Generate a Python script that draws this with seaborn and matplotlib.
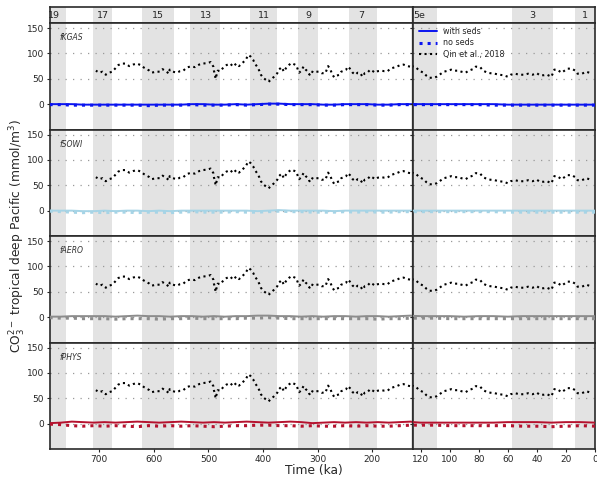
import matplotlib
matplotlib.use("Agg")
import matplotlib.pyplot as plt
import seaborn as sns

# Qin et al., 2018 record (ka, CO3 mmol/m3)
qin_age = [706, 700, 694, 688, 682, 676, 671, 665, 659, 652,
           645, 638, 631, 624, 618, 613, 608, 604, 596, 589,
           584, 578, 572, 571, 565, 558, 552, 546, 540, 534,
           530, 525, 517, 510, 502, 496, 491, 490, 488, 487,
           483, 478, 473, 467, 460, 455, 449, 444, 438, 432,
           427, 423, 418, 415, 411, 407, 404, 400, 395, 390,
           385, 380, 374, 371, 366, 362, 357, 353, 348, 342,
           339, 336, 334, 330, 326, 322, 318, 315, 312, 307,
           303, 298, 293, 286, 281, 277, 274, 270, 266, 260,
           257, 252, 248, 245, 240, 236, 231, 227, 222, 218,
           214, 209, 204, 199, 195, 190, 184, 178, 172, 167,
           161, 155, 149, 143, 136, 131, 126, 123, 121, 118,
           116, 114, 111, 109, 106, 104, 101, 99, 97, 94,
           92, 89, 87, 84, 82, 79, 77, 74, 72, 69,
           66, 63, 60, 58, 55, 52, 49, 46, 43, 40,
           38, 35, 33, 30, 29, 28, 26, 23, 21, 19,
           16, 13, 12, 9, 6, 4]
qin_co3 = [66, 62, 64, 58, 62, 64, 70, 77, 80, 80,
           75, 78, 80, 77, 72, 69, 66, 62, 64, 64,
           69, 65, 60, 68, 64, 62, 65, 66, 72, 74,
           74, 73, 78, 80, 81, 83, 74, 66, 58, 50,
           66, 65, 72, 77, 80, 74, 80, 75, 81, 87,
           97, 94, 87, 80, 74, 66, 58, 52, 48, 44,
           49, 54, 61, 68, 73, 64, 73, 77, 81, 78,
           76, 67, 62, 66, 74, 68, 64, 58, 65, 62,
           64, 64, 61, 61, 75, 69, 60, 53, 56, 58,
           64, 66, 68, 74, 69, 62, 58, 62, 61, 54,
           61, 62, 68, 65, 62, 65, 66, 65, 65, 70,
           72, 74, 77, 78, 75, 74, 75, 72, 66, 62,
           56, 52, 52, 54, 60, 64, 66, 68, 66, 66,
           64, 62, 66, 69, 74, 73, 66, 62, 61, 60,
           58, 57, 54, 58, 60, 58, 58, 60, 58, 61,
           57, 57, 58, 54, 61, 68, 68, 62, 66, 70,
           70, 65, 60, 60, 64, 62]

# model runs
model_age = [790, 770, 750, 730, 710, 690, 670, 650, 630, 610,
             590, 570, 550, 530, 510, 490, 470, 450, 430, 410,
             390, 370, 350, 330, 310, 290, 270, 250, 230, 210,
             190, 170, 150, 130, 120, 110, 100, 90, 80, 70,
             60, 50, 40, 30, 20, 10, 0]
kgas_seds = [0, 0, 0, -1, -1, -1, -1, -1, -1, -1, -1, -1, -1, 0, 0, -1, -1, 0, -1, 0,
             1, 1, 0, 0, 0, -1, -1, 0, 0, 0, -1, -1, 0, 0, 0, 0, 0, 0, 0, 0,
             -1, -1, -1, -1, -1, -1, -1]
kgas_noseds = [-1, -1, -2, -2, -2, -2, -2, -2, -2, -3, -2, -2, -2, -1, -2, -2, -2, -1, -2, -1,
               0, 0, -1, -1, -1, -2, -2, -1, -1, -1, -2, -2, -1, -1, -1, -1, -1, -1, -1, -2,
               -2, -2, -2, -2, -2, -2, -2]
sowi_seds = [0, 0, 0, -1, -1, 0, -1, 0, 0, -1, 0, -1, 0, 0, 0, 0, 0, 0, 0, -1,
             0, 1, 0, 0, 0, 0, -1, 0, 0, 0, 0, 0, 0, 0, 0, 0, 0, 0, 0, 0,
             0, 0, 0, 0, 0, 0, 0]
sowi_noseds = [-1, -2, -3, -4, -3, -4, -3, -3, -4, -3, -3, -4, -3, -2, -3, -3, -3, -2, -3, -3,
               -2, -1, -2, -2, -3, -3, -3, -2, -3, -2, -3, -3, -2, -2, -2, -2, -2, -2, -2, -2,
               -3, -3, -3, -3, -3, -3, -3]
aero_seds = [1, 1, 2, 2, 2, 2, 1, 2, 3, 2, 2, 1, 2, 2, 1, 2, 1, 2, 2, 3,
             3, 2, 2, 1, 2, 1, 2, 2, 1, 2, 2, 1, 2, 3, 2, 2, 2, 1, 2, 2,
             1, 2, 2, 2, 2, 2, 2]
aero_noseds = [-1, -2, -2, -3, -3, -3, -4, -3, -3, -3, -4, -3, -3, -2, -3, -3, -3, -3, -2, -2,
               -1, -2, -3, -3, -3, -3, -3, -3, -3, -3, -4, -3, -3, -2, -2, -2, -3, -3, -3, -3,
               -3, -3, -3, -3, -3, -3, -3]
phys_seds = [1, 2, 4, 3, 2, 3, 2, 3, 4, 3, 2, 3, 4, 3, 2, 3, 2, 3, 4, 3,
             2, 3, 4, 3, 1, 2, 3, 2, 3, 2, 3, 2, 3, 4, 2, 2, 2, 2, 2, 2,
             3, 3, 3, 2, 3, 3, 2]
phys_noseds = [-1, -2, -4, -5, -4, -5, -4, -5, -6, -4, -5, -4, -5, -4, -5, -6, -5, -4, -4, -3,
               -3, -4, -4, -5, -4, -5, -5, -4, -5, -4, -5, -5, -4, -3, -3, -3, -4, -4, -4, -4,
               -4, -5, -5, -6, -5, -4, -5]

experiments = ["fKGAS", "fSOWI", "fAERO", "fPHYS"]
exp_colors = ["#0a14f0", "#a6d4e6", "#8c8c8c", "#b5122e"]
with_seds = [kgas_seds, sowi_seds, aero_seds, phys_seds]
no_seds = [kgas_noseds, sowi_noseds, aero_noseds, phys_noseds]

# marine isotope stages (odd = shaded)
mis_labels = ["19", "17", "15", "13", "11", "9", "7", "5e", "3", "1"]
mis_start = [790, 712, 621, 533, 424, 337, 243, 130, 57, 14]
mis_end = [761, 676, 563, 478, 374, 300, 191, 109, 29, 0]
mis_label_pos = [782, 694, 592, 505, 399, 318, 220, 121, 43, 7]

sns.set_style("ticks")
plt.rcParams["font.family"] = ["DejaVu Sans"]

fig = plt.figure(figsize=(5.97, 4.84), dpi=100)
gs = fig.add_gridspec(5, 2, height_ratios=[16, 106.5, 106.5, 106.5, 106.5],
                      width_ratios=[2, 1], left=50 / 597, right=595 / 597,
                      top=1 - 7 / 484, bottom=1 - 449 / 484, hspace=0, wspace=0)

xlims = [(790, 125), (125, 0)]
xticks = [[700, 600, 500, 400, 300, 200], [120, 100, 80, 60, 40, 20, 0]]
spine_col = "#2a2a2a"


def style_spines(ax):
    for s in ax.spines.values():
        s.set_color(spine_col)
        s.set_linewidth(1.2)


def shade(ax):
    for a, b in zip(mis_start, mis_end):
        ax.axvspan(a, b, color="#e3e3e3", lw=0, zorder=0)


# top strip with MIS numbers
for col in range(2):
    ax = fig.add_subplot(gs[0, col])
    shade(ax)
    ax.set_xlim(*xlims[col])
    ax.set_ylim(0, 1)
    ax.set_xticks([])
    ax.set_yticks([])
    lo, hi = min(xlims[col]), max(xlims[col])
    for lab, pos in zip(mis_labels, mis_label_pos):
        if lo <= pos <= hi:
            ax.text(pos, 0.45, lab, ha="center", va="center", fontsize=6.8)
    style_spines(ax)

for row, name in enumerate(experiments):
    for col in range(2):
        ax = fig.add_subplot(gs[row + 1, col])
        shade(ax)
        ax.grid(axis="y", color="#999999", linestyle=(0, (1, 5)), linewidth=0.9, zorder=1)
        ax.set_axisbelow(True)
        sns.lineplot(x=qin_age, y=qin_co3, ax=ax, color="black", linestyle=":",
                     linewidth=1.5, legend=False, label="Qin et al., 2018", zorder=3)
        sns.lineplot(x=model_age, y=with_seds[row], ax=ax, color=exp_colors[row],
                     linewidth=1.4, legend=False, label="with seds", zorder=4)
        sns.lineplot(x=model_age, y=no_seds[row], ax=ax, color=exp_colors[row],
                     linestyle=":", linewidth=2.2, legend=False, label="no seds", zorder=4)
        ax.set_xlim(*xlims[col])
        ax.set_ylim(-50, 160)
        ax.set_yticks([0, 50, 100, 150])
        ax.set_xticks(xticks[col])
        ax.set_xlabel("")
        ax.set_ylabel("")
        ax.tick_params(axis="both", labelsize=6.5, length=2.5, width=0.8, pad=2)
        if col == 1:
            ax.tick_params(axis="y", labelleft=False, length=2)
        else:
            ax.text(0.027, 0.86, name, transform=ax.transAxes, fontsize=5.5,
                    style="italic", color="#333333", ha="left", va="center")
        if row < 3:
            ax.tick_params(axis="x", labelbottom=False, bottom=False)
        style_spines(ax)
        if row == 0 and col == 1:
            h, l = ax.get_legend_handles_labels()
            order = [l.index("with seds"), l.index("no seds"), l.index("Qin et al., 2018")]
            ax.legend([h[i] for i in order], [l[i] for i in order], loc="upper left",
                      bbox_to_anchor=(0.0, 1.02), frameon=False, fontsize=5.8,
                      handlelength=2.2, labelspacing=0.35, borderaxespad=0.3)

fig.text(0.03, 0.512, "CO$_3^{2-}$ tropical deep Pacific (mmol/m$^3$)", rotation=90,
         ha="center", va="center", fontsize=8.8)
fig.text(0.525, 0.027, "Time (ka)", ha="center", va="center", fontsize=8.8)

fig.savefig("out.png", dpi=100)
